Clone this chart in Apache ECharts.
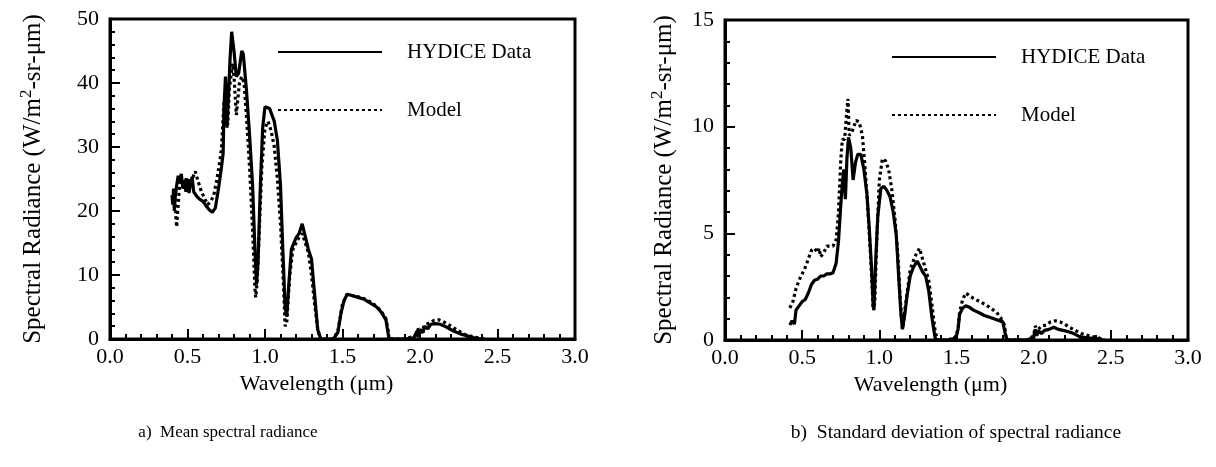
<!DOCTYPE html>
<html>
<head>
<meta charset="utf-8">
<script src="https://cdn.jsdelivr.net/npm/echarts@6/dist/echarts.min.js"></script>
<style>
html,body{margin:0;padding:0;background:#fff;}
#chart{width:1216px;height:467px;}
</style>
</head>
<body>
<div id="chart"></div>
<script>
// ---- Data ----
const xTicks = [0.0, 0.5, 1.0, 1.5, 2.0, 2.5, 3.0];
const seriesNames = ['HYDICE Data', 'Model'];
const captions = ['a)  Mean spectral radiance', 'b)  Standard deviation of spectral radiance'];

// (a) Mean spectral radiance — HYDICE data
const wlMeanData = [0.40,0.405,0.41,0.415,0.42,0.43,0.44,0.45,0.46,0.47,0.48,0.49,0.50,0.51,0.52,0.53,0.54,0.56,0.58,0.60,0.62,0.64,0.66,0.68,0.70,0.72,0.73,0.735,0.745,0.755,0.765,0.775,0.785,0.80,0.815,0.83,0.85,0.86,0.88,0.90,0.92,0.935,0.945,0.955,0.97,0.985,1.00,1.03,1.06,1.08,1.10,1.115,1.13,1.14,1.155,1.17,1.20,1.22,1.24,1.26,1.28,1.30,1.32,1.34,1.36,1.40,1.44,1.47,1.49,1.51,1.53,1.56,1.60,1.64,1.68,1.72,1.75,1.78,1.79,1.80,1.90,1.96,1.98,1.99,2.00,2.02,2.03,2.05,2.07,2.10,2.13,2.16,2.19,2.22,2.26,2.30,2.35,2.40];
const meanData   = [22.5,21,23.5,20,22,24,25.5,24.5,25.8,23.5,24.8,23,25,22.8,24.5,25.3,23,22.3,21.8,21.5,20.8,20.2,19.8,20.5,23.5,27,29,36,41,33,33,44,48,45,41,41.5,45,44.5,39,32,24,14,8.5,12,24,33,36.3,36,34,31,24,14,5,3.5,9,14,15.8,16.5,18,16,14,12.5,7,1.5,0,0,0,1,4,6,7,6.8,6.5,6.2,5.6,5,4.2,3,1.5,0,0,0.2,1.2,0.3,1.5,1.0,2.0,1.6,2.3,2.4,2.3,2.0,1.6,1.2,0.8,0.5,0.2,0];

// (a) Mean spectral radiance — model
const wlMeanModel = [0.42,0.425,0.43,0.44,0.45,0.47,0.49,0.51,0.53,0.55,0.57,0.59,0.61,0.63,0.65,0.67,0.69,0.71,0.72,0.735,0.75,0.76,0.77,0.79,0.80,0.815,0.825,0.835,0.85,0.865,0.88,0.90,0.92,0.935,0.94,0.95,0.965,0.98,1.00,1.02,1.04,1.06,1.08,1.10,1.12,1.13,1.14,1.16,1.18,1.21,1.24,1.26,1.28,1.30,1.32,1.34,1.355,1.44,1.47,1.50,1.53,1.56,1.60,1.64,1.68,1.72,1.75,1.78,1.795,1.80,1.90,1.97,1.99,2.01,2.03,2.06,2.09,2.12,2.15,2.18,2.22,2.26,2.30,2.35,2.42];
const meanModel   = [22,19,17.5,21,24.5,24,25,24.5,25,26.2,24.5,23,22,21,21.5,22.5,25,28,30,37,35,33.5,39,43,41,35,35,40,41,40,35,27,17,8,6.5,9,18,27,33,34,32.5,30,25,18,8,2,2.5,10,14,15.5,16.5,15,13.5,10,5.5,1.5,0,0,1.2,5.5,7,6.8,6.6,6.3,5.8,5.1,4.3,3.2,1.3,0,0,0.5,1.6,1.0,2.2,2.5,2.9,3.0,2.7,2.3,1.7,1.1,0.6,0.3,0];

// (b) Standard deviation — HYDICE data
const wlStdData = [0.42,0.435,0.45,0.46,0.48,0.50,0.52,0.54,0.56,0.58,0.60,0.62,0.64,0.66,0.68,0.70,0.72,0.735,0.75,0.76,0.77,0.775,0.78,0.79,0.80,0.815,0.83,0.845,0.86,0.88,0.90,0.92,0.935,0.95,0.96,0.965,0.975,0.99,1.01,1.03,1.05,1.07,1.09,1.11,1.125,1.14,1.15,1.165,1.18,1.20,1.22,1.245,1.26,1.28,1.30,1.32,1.34,1.36,1.37,1.44,1.48,1.50,1.51,1.52,1.54,1.56,1.58,1.61,1.64,1.68,1.72,1.76,1.80,1.81,1.82,1.83,1.95,2.00,2.01,2.02,2.03,2.05,2.07,2.10,2.13,2.16,2.19,2.22,2.26,2.30,2.35,2.42,2.45];
const stdData   = [0.7,0.9,0.75,1.4,1.6,1.8,1.9,2.2,2.6,2.8,2.85,3.0,3.0,3.1,3.1,3.15,3.6,4.6,6.3,7.3,8.0,7.3,6.6,8.5,9.5,9.0,7.5,8.3,8.7,8.7,8.0,6.8,5.2,3.3,1.6,1.4,3.5,5.8,7.1,7.2,7.0,6.7,6.0,4.9,3.0,1.2,0.5,1.2,2.1,3.0,3.4,3.7,3.5,3.2,3.0,2.3,1.1,0.15,0,0,0.05,0.2,0.5,1.2,1.5,1.6,1.55,1.4,1.3,1.15,1.05,0.95,0.85,0.5,0.15,0,0,0.1,0.5,0.2,0.45,0.3,0.45,0.5,0.6,0.5,0.45,0.4,0.3,0.15,0.1,0.05,0];

// (b) Standard deviation — model
const wlStdModel = [0.42,0.44,0.46,0.48,0.50,0.52,0.54,0.56,0.58,0.60,0.61,0.62,0.64,0.66,0.68,0.70,0.72,0.735,0.75,0.76,0.775,0.79,0.797,0.805,0.82,0.835,0.85,0.87,0.89,0.905,0.92,0.935,0.95,0.96,0.97,0.985,1.00,1.02,1.04,1.06,1.08,1.10,1.12,1.135,1.15,1.165,1.18,1.20,1.23,1.26,1.28,1.30,1.32,1.34,1.36,1.375,1.44,1.49,1.51,1.52,1.54,1.56,1.58,1.61,1.65,1.69,1.73,1.76,1.79,1.81,1.82,1.83,1.96,2.00,2.01,2.03,2.05,2.08,2.11,2.14,2.17,2.20,2.23,2.27,2.31,2.36,2.42,2.46];
const stdModel   = [1.5,1.8,2.4,2.8,3.1,3.4,3.8,4.2,4.3,4.1,4.3,3.9,4.1,4.4,4.4,4.4,4.7,5.9,8.4,9.4,9.4,10.8,11.3,9.6,9.7,10.0,10.3,10.2,9.6,8.3,6.8,5.0,3.0,1.5,1.7,5.0,7.5,8.5,8.4,8.0,7.1,5.8,4.0,2.0,0.5,1.4,2.2,3.3,3.9,4.3,3.8,3.3,2.8,1.7,0.5,0,0,0.1,0.5,1.3,1.9,2.2,2.1,1.95,1.8,1.65,1.45,1.3,1.0,0.7,0.2,0,0,0.2,0.65,0.5,0.65,0.7,0.85,0.9,0.85,0.75,0.6,0.45,0.3,0.2,0.1,0];

const zip = (xs, ys) => xs.map((x, i) => [x, ys[i]]);

// ---- Styling ----
const FONT = 'Liberation Serif';
const BLACK = '#000';

function xAxisFor(gridIndex) {
  return {
    gridIndex, type: 'value', min: 0, max: 3, interval: 0.5,
    axisLine: { show: true, onZero: false, lineStyle: { color: BLACK, width: 3 } },
    axisTick: { show: true, inside: true, length: 10, lineStyle: { color: BLACK, width: 2 } },
    minorTick: { show: true, splitNumber: 5, length: 5, lineStyle: { color: BLACK, width: 2 } },
    splitLine: { show: false },
    axisLabel: { margin: 7, fontSize: 22, fontFamily: FONT, color: BLACK,
      formatter: v => { const t = xTicks.find(k => Math.abs(k - v) < 1e-6); return (t !== undefined ? t : v).toFixed(1); } },
    name: 'Wavelength (μm)', nameLocation: 'middle', nameGap: 30,
    nameTextStyle: { fontSize: 22, fontFamily: FONT, color: BLACK, padding: [0, 52, 0, 0] }
  };
}
function yAxisFor(gridIndex, max, interval, nameGap) {
  return {
    gridIndex, type: 'value', min: 0, max, interval,
    axisLine: { show: true, onZero: false, lineStyle: { color: BLACK, width: 3 } },
    axisTick: { show: true, inside: true, length: 10, lineStyle: { color: BLACK, width: 2 } },
    minorTick: { show: true, splitNumber: 5, length: 5, lineStyle: { color: BLACK, width: 2 } },
    splitLine: { show: false },
    axisLabel: { margin: 11, fontSize: 22, fontFamily: FONT, color: BLACK },
    name: 'Spectral Radiance (W/m{sup|2}-sr-μm)', nameLocation: 'middle', nameGap, nameRotate: 90,
    nameTextStyle: { fontSize: 25, fontFamily: FONT, color: BLACK,
      rich: { sup: { fontSize: 17, fontFamily: FONT, color: BLACK, padding: [0, 0, 13, 0] } } }
  };
}
function lineSeries(name, idx, data, dotted) {
  return {
    name, type: 'line', xAxisIndex: idx, yAxisIndex: idx, data,
    symbol: 'none', showSymbol: false, clip: true, animation: false,
    lineStyle: { color: BLACK, width: 3.2, type: dotted ? [3, 3] : 'solid' },
    itemStyle: { color: BLACK },
    z: dotted ? 2 : 3
  };
}
function legendFor(left, top) {
  return {
    left, top, orient: 'vertical', itemWidth: 104, itemHeight: 40, itemGap: 26,
    selectedMode: false, data: seriesNames,
    itemStyle: { color: 'rgba(0,0,0,0)', borderWidth: 0, opacity: 0 },
    textStyle: { fontSize: 21, lineHeight: 22, fontFamily: FONT, color: BLACK, padding: [8, 0, 0, 20] }
  };
}

const chart = echarts.init(document.getElementById('chart'), null, { renderer: 'canvas' });
chart.setOption({
  animation: false,
  backgroundColor: '#fff',
  grid: [
    { left: 110, top: 19, width: 465, height: 320, show: true, borderColor: BLACK, borderWidth: 3 },
    { left: 725, top: 20, width: 463, height: 320, show: true, borderColor: BLACK, borderWidth: 3 }
  ],
  xAxis: [xAxisFor(0), xAxisFor(1)],
  yAxis: [yAxisFor(0, 50, 10, 62), yAxisFor(1, 15, 5, 46)],
  legend: [legendFor(272, 31), legendFor(886, 36)],
  series: [
    lineSeries(seriesNames[1], 0, zip(wlMeanModel, meanModel), true),
    lineSeries(seriesNames[0], 0, zip(wlMeanData, meanData), false),
    lineSeries(seriesNames[1], 1, zip(wlStdModel, stdModel), true),
    lineSeries(seriesNames[0], 1, zip(wlStdData, stdData), false)
  ],
  graphic: [
    { type: 'text', x: 228, y: 433, style: { text: captions[0], font: '17px "Liberation Serif"', fill: BLACK, textAlign: 'center', textVerticalAlign: 'middle' } },
    { type: 'text', x: 956, y: 433, style: { text: captions[1], font: '19.5px "Liberation Serif"', fill: BLACK, textAlign: 'center', textVerticalAlign: 'middle' } }
  ]
});
</script>
</body>
</html>
